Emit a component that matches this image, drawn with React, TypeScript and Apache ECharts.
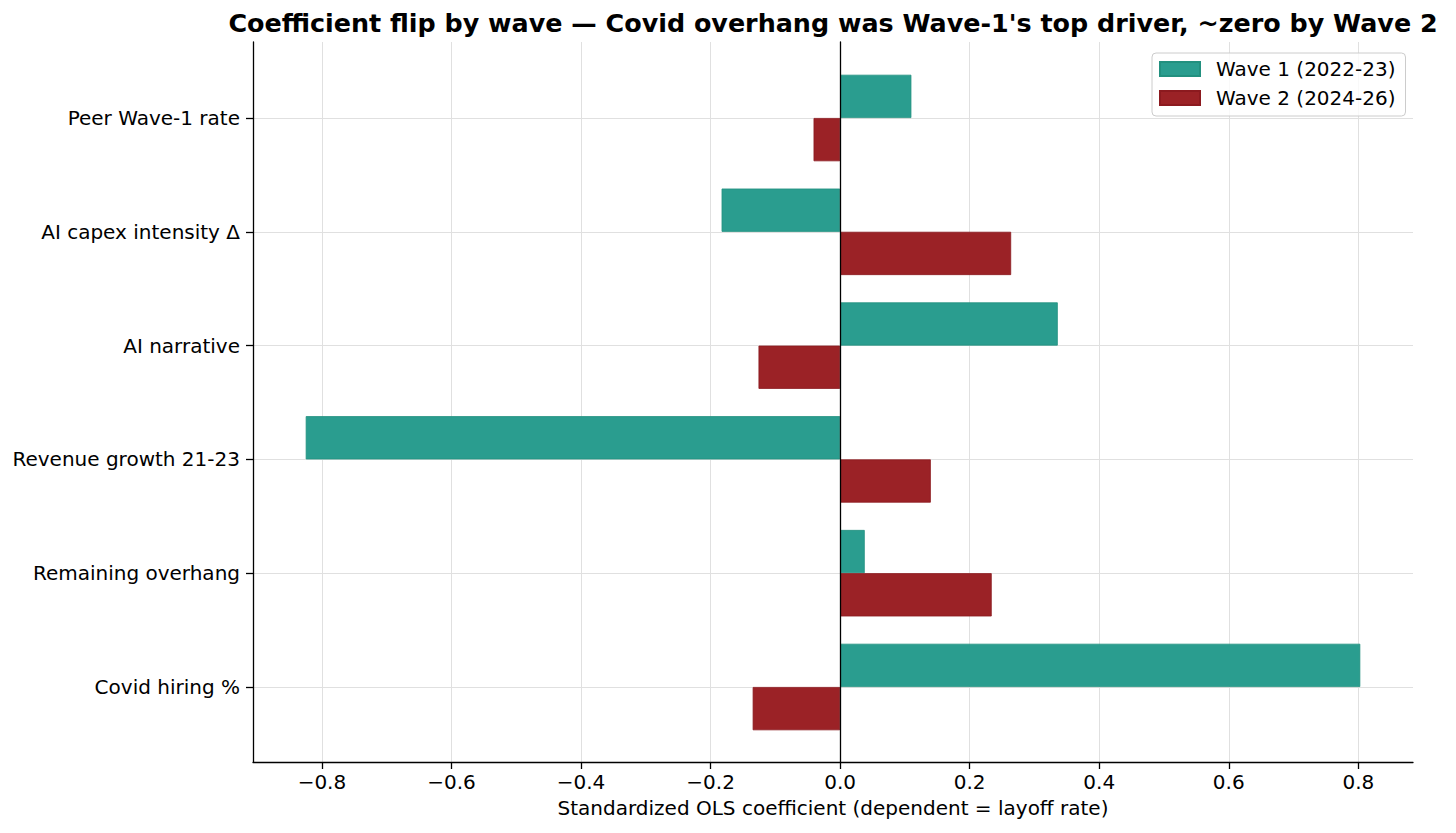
import React, { useEffect, useRef } from "react";
import * as echarts from "echarts";

const categories = [
  "Covid hiring %",
  "Remaining overhang",
  "Revenue growth 21-23",
  "AI narrative",
  "AI capex intensity Δ",
  "Peer Wave-1 rate",
];
const wave1 = [0.803, 0.038, -0.825, 0.336, -0.183, 0.11];
const wave2 = [-0.135, 0.234, 0.14, -0.126, 0.264, -0.041];
const seriesNames = ["Wave 1 (2022-23)", "Wave 2 (2024-26)"];
const titleText =
  "Coefficient flip by wave — Covid overhang was Wave-1's top driver, ~zero by Wave 2";
const xName = "Standardized OLS coefficient (dependent = layoff rate)";

const X_MIN = -0.9064;
const X_MAX = 0.8844;
const FONT = "DejaVu Sans";
const TEAL = "#2a9d8f";
const TEAL_EDGE = "#22907f";
const RED = "#9b2226";
const RED_EDGE = "#8c1a1f";
const FS = 20;

export default function App() {
  const ref = useRef<HTMLDivElement>(null);
  useEffect(() => {
    if (!ref.current) return;
    const chart = echarts.init(ref.current, undefined, { renderer: "svg" });
    const fmt = (v: number) =>
      (v < -1e-9 ? "\u2212" : "") + Math.abs(v).toFixed(1);
    chart.setOption({
      animation: false,
      backgroundColor: "#ffffff",
      textStyle: { fontFamily: FONT },
      title: {
        text: titleText,
        left: 828,
        top: 5,
        textAlign: "center",
        textStyle: { fontFamily: FONT, fontSize: 25.4, fontWeight: "bold", color: "#000" },
      },
      legend: {
        orient: "vertical",
        left: 1152,
        top: 53,
        padding: [6, 10, 8, 7],
        itemGap: 9,
        itemWidth: 40,
        itemHeight: 14,
        borderColor: "#cccccc",
        borderWidth: 1,
        borderRadius: 4,
        backgroundColor: "rgba(255,255,255,0.8)",
        icon: "rect",
        data: seriesNames,
        textStyle: { fontFamily: FONT, fontSize: FS, color: "#000", lineHeight: 20, padding: [0, 0, 0, 11] },
      },
      grid: [
        { left: 253, right: 43, top: 42, bottom: 71, containLabel: false },
        { left: 253, right: 43, top: 118, bottom: 146, containLabel: false },
      ],
      xAxis: [
        {
          type: "value",
          gridIndex: 0,
          min: X_MIN,
          max: X_MAX,
          splitNumber: 9,
          name: xName,
          nameLocation: "middle",
          nameGap: 36,
          nameTextStyle: { fontFamily: FONT, fontSize: FS, color: "#000" },
          axisLine: { show: true, onZero: false, lineStyle: { color: "#000", width: 1.3 } },
          axisTick: { show: true, length: 7, lineStyle: { color: "#000", width: 1.3 } },
          axisLabel: {
            show: true,
            showMinLabel: false,
            showMaxLabel: false,
            margin: 10,
            fontFamily: FONT,
            fontSize: FS,
            color: "#000",
            formatter: fmt,
          },
          splitLine: {
            show: true,
            showMinLine: false,
            showMaxLine: false,
            lineStyle: { color: "#e0e0e0", width: 1 },
          },
        },
        {
          type: "value",
          gridIndex: 1,
          min: X_MIN,
          max: X_MAX,
          show: false,
          splitLine: { show: false },
        },
      ],
      yAxis: [
        {
          type: "value",
          gridIndex: 0,
          min: 0,
          max: 1,
          position: "left",
          axisLine: { show: true, onZero: false, lineStyle: { color: "#000", width: 1.3 } },
          axisTick: { show: false },
          axisLabel: { show: false },
          splitLine: { show: false },
        },
        {
          type: "value",
          gridIndex: 0,
          min: 0,
          max: 1,
          position: "left",
          z: 5,
          axisLine: { show: true, onZero: true, lineStyle: { color: "#000", width: 1.3 } },
          axisTick: { show: false },
          axisLabel: { show: false },
          splitLine: { show: false },
        },
        {
          type: "category",
          gridIndex: 1,
          data: categories,
          boundaryGap: false,
          position: "left",
          axisLine: { show: false, onZero: false },
          axisTick: { show: true, length: 7, lineStyle: { color: "#000", width: 1.3 } },
          axisLabel: { margin: 13, fontFamily: FONT, fontSize: FS, color: "#000" },
          splitLine: { show: true, lineStyle: { color: "#e0e0e0", width: 1 } },
        },
      ],
      series: [
        {
          name: seriesNames[0],
          type: "bar",
          xAxisIndex: 1,
          yAxisIndex: 2,
          data: wave1,
          barWidth: "38%",
          barGap: "0%",
          clip: false,
          itemStyle: { color: TEAL, borderColor: TEAL_EDGE, borderWidth: 0.8 },
        },
        {
          name: seriesNames[1],
          type: "bar",
          xAxisIndex: 1,
          yAxisIndex: 2,
          data: wave2,
          barWidth: "38%",
          barGap: "0%",
          clip: false,
          itemStyle: { color: RED, borderColor: RED_EDGE, borderWidth: 0.8 },
        },
      ],
    });
    return () => chart.dispose();
  }, []);
  return (
    <div
      ref={ref}
      style={{ position: "absolute", left: 0, top: 0, width: 1456, height: 833 }}
    />
  );
}
